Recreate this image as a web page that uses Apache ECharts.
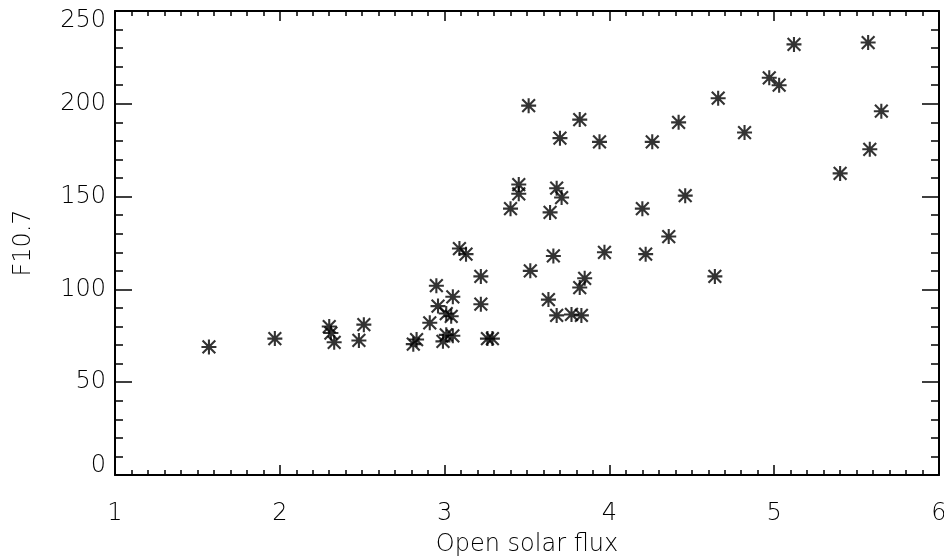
<!DOCTYPE html>
<html>
<head>
<meta charset="utf-8">
<style>
  html, body { margin: 0; padding: 0; background: #fff; }
  #chart { width: 944px; height: 557px; }
</style>
<script src="https://cdn.jsdelivr.net/npm/echarts@6/dist/echarts.min.js"></script>
</head>
<body>
<div id="chart"></div>
<script>
// open solar flux (x) vs F10.7 (y)
var openFlux = [
    1.57, 1.97, 2.30, 2.31, 2.33, 2.48, 2.51, 2.81, 2.83, 2.91,
    2.95, 2.96, 3.05, 3.01, 3.04, 2.99, 3.01, 3.05, 3.09, 3.13,
    3.22, 3.22, 3.26, 3.29, 3.40, 3.45, 3.45, 3.51, 3.52, 3.63,
    3.64, 3.66, 3.68, 3.68, 3.71, 3.70, 3.77, 3.82, 3.82, 3.83,
    3.85, 3.94, 3.97, 4.20, 4.22, 4.26, 4.36, 4.42, 4.46, 4.64,
    4.66, 4.82, 4.97, 5.03, 5.12, 5.40, 5.57, 5.58, 5.65
];
var f107 = [
    69, 73.5, 80, 76.5, 71.5, 72.5, 81, 70.5, 73, 82,
    102, 91, 96, 87, 85.5, 72, 75.5, 75, 122, 119,
    107, 92, 73.5, 73.5, 143.5, 156.5, 151.5, 199, 110, 94.5,
    141.5, 118, 154.5, 86, 149.5, 181.5, 86.5, 191.5, 101, 86,
    106, 179.5, 120, 143.5, 119, 179.5, 128.5, 190, 150.5, 107,
    203, 184.5, 214, 210, 232, 162.5, 233, 175.5, 196
];

var xTicks = { min: 1, max: 6, step: 1 };
var yTicks = { min: 0, max: 250, step: 50 };

var points = [];
for (var i = 0; i < openFlux.length; i++) {
    points.push([openFlux[i], f107[i]]);
}

// 8-armed asterisk, like the IDL psym=2
var starPath = 'path://M0 8.6 L20 8.6 L20 11.4 L0 11.4 Z ' +
    'M8.6 0 L11.4 0 L11.4 20 L8.6 20 Z ' +
    'M0.5 2.5 L2.5 0.5 L19.5 17.5 L17.5 19.5 Z ' +
    'M17.5 0.5 L19.5 2.5 L2.5 19.5 L0.5 17.5 Z ' +
    'M6.2 6.2 L13.8 6.2 L13.8 13.8 L6.2 13.8 Z';

var font = 'DejaVu Sans';
var lineStyle = { color: '#000', width: 2 };

function boxAxis(pos, ticks, split, majorLen, minorLen, withLabels, name) {
    return {
        type: 'value',
        position: pos,
        min: ticks.min,
        max: ticks.max,
        interval: ticks.step,
        name: withLabels ? name : '',
        nameLocation: 'middle',
        nameTextStyle: { fontFamily: font, fontSize: 24, fontWeight: 'lighter', color: '#000' },
        axisLine: { show: true, onZero: false, lineStyle: lineStyle },
        axisTick: { show: true, inside: true, length: majorLen, lineStyle: { color: '#000', width: 1.5 } },
        minorTick: { show: true, splitNumber: split, length: minorLen, lineStyle: { color: '#000', width: 1.5 } },
        axisLabel: {
            show: withLabels,
            fontFamily: font,
            fontSize: 24,
            fontWeight: 'lighter',
            color: '#000'
        },
        splitLine: { show: false }
    };
}

var myChart = echarts.init(document.getElementById('chart'));

var xBottom = boxAxis('bottom', xTicks, 10, 10, 5, true, 'Open solar flux');
xBottom.nameGap = 58;
xBottom.axisLabel.margin = 27;
var xTop = boxAxis('top', xTicks, 10, 10, 5, false, '');

var yLeft = boxAxis('left', yTicks, 5, 17, 8, true, 'F10.7');
yLeft.nameGap = 79;
yLeft.axisLabel.margin = 9;
// end labels sit inside the box, as in the original
yLeft.axisLabel.formatter = function(v) {
    if (v === yTicks.max) return '{top|' + v + '}';
    if (v === yTicks.min) return '{bot|' + v + '}';
    return '' + v;
};
yLeft.axisLabel.rich = {
    top: { fontFamily: font, fontSize: 24, fontWeight: 'lighter', color: '#000', padding: [20, 0, 0, 0] },
    bot: { fontFamily: font, fontSize: 24, fontWeight: 'lighter', color: '#000', padding: [0, 0, 18, 0] }
};
var yRight = boxAxis('right', yTicks, 5, 17, 8, false, '');

var option = {
    animation: false,
    backgroundColor: '#fff',
    grid: { left: 115, right: 5, top: 11, bottom: 82, containLabel: false, outerBoundsMode: 'none' },
    xAxis: [xBottom, xTop],
    yAxis: [yLeft, yRight],
    series: [{
        type: 'scatter',
        data: points,
        symbol: starPath,
        symbolSize: 15,
        itemStyle: { color: '#000' }
    }]
};

myChart.setOption(option);
</script>
</body>
</html>
